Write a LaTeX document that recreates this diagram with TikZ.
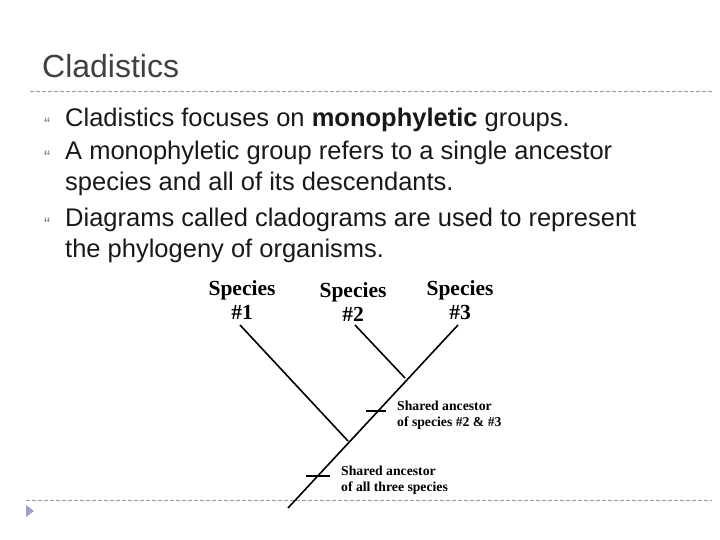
\documentclass[tikz,border=0pt]{standalone}
\usepackage{fontspec}
\setmainfont{Liberation Sans}
\newfontfamily\serifb{Liberation Serif}
\begin{document}
\begin{tikzpicture}[x=1pt,y=-1pt,
  body/.style={anchor=base west,inner sep=0pt,font=\fontsize{25.5}{25.5}\selectfont,text=black!90},
  bul/.style={anchor=base west,inner sep=0pt,font=\fontsize{18}{18}\selectfont,text=black!55},
  lab/.style={inner sep=0pt,align=center,font=\serifb\bfseries\fontsize{21.5}{24}\selectfont},
  small/.style={inner sep=0pt,align=left,anchor=west,font=\serifb\bfseries\fontsize{13.7}{16}\selectfont},
  br/.style={line width=1.6pt},
  dl/.style={black!40,dashed,dash pattern=on 4pt off 2pt,line width=0.6pt}]
\useasboundingbox (0,0) rectangle (720,540);
\node[anchor=base west,inner sep=0pt,font=\fontsize{32}{32}\selectfont,text=black!75] (title) at (42,78) {Cladistics};
\coordinate (d1a) at (30,91); \coordinate (d1b) at (712,91);
\draw[dl] (d1a) -- (d1b);
\coordinate (d2a) at (26,500); \coordinate (d2b) at (712,500);
\draw[dl] (d2a) -- (d2b);
\node[bul] (b1) at (44,131) {“};
\node[bul] (b2) at (44,164) {“};
\node[bul] (b3) at (44,230) {“};
\node[body] (t1) at (65,127) {Cladistics focuses on \textbf{monophyletic} groups.};
\node[body] (t2) at (65,160) {A monophyletic group refers to a single ancestor};
\node[body] (t2b) at (65,191) {species and all of its descendants.};
\node[body] (t3) at (65,226) {Diagrams called cladograms are used to represent};
\node[body] (t3b) at (65,258) {the phylogeny of organisms.};
\fill[fill=blue!25!gray!60] (26,505) -- (34,511) -- (26,517) -- cycle;
% tree
\coordinate (root) at (288,508);
\coordinate (s1) at (240,325);
\coordinate (s2) at (355,325);
\coordinate (s3) at (458,325);
\coordinate (j1) at (348,441);
\coordinate (j2) at (405,378);
\draw[br] (root) -- (s3);
\draw[br] (j1) -- (s1);
\draw[br] (j2) -- (s2);
\coordinate (k1a) at (366,411); \coordinate (k1b) at (386,411);
\coordinate (k2a) at (306,476); \coordinate (k2b) at (330,476);
\draw[br] (k1a) -- (k1b);
\draw[br] (k2a) -- (k2b);
\node[lab] (l1) at (242,300) {Species\\\#1};
\node[lab] (l2) at (353,302) {Species\\\#2};
\node[lab] (l3) at (460,300) {Species\\\#3};
\node[small] (a1) at (397,415) {Shared ancestor\\of species \#2 \& \#3};
\node[small] (a2) at (341,480) {Shared ancestor\\of all three species};
\end{tikzpicture}
\end{document}
